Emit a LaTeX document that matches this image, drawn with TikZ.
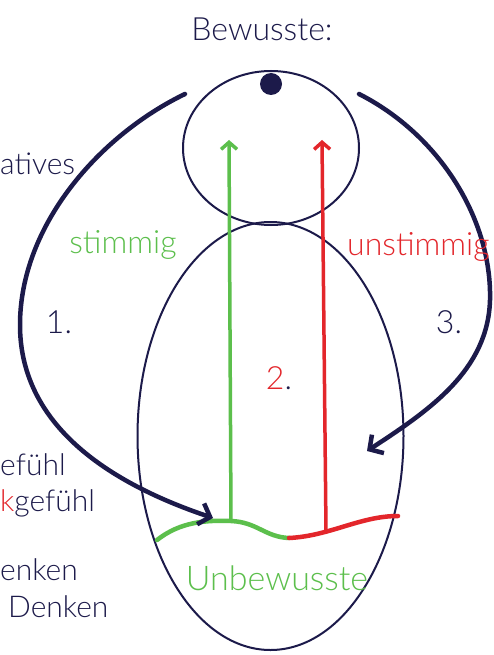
\documentclass[tikz,border=0pt]{standalone}
\usepackage{fontspec}
\setmainfont{Lato Light}
\usetikzlibrary{arrows.meta}
\definecolor{navy}{HTML}{1C1A4A}
\definecolor{mygreen}{HTML}{5CBF4C}
\definecolor{myred}{HTML}{E3262B}
\begin{document}
\begin{tikzpicture}[x=1pt,y=-1pt,
  outline/.style={draw=navy,line width=2pt},
  bigarrow/.style={draw=navy,line width=4.5pt,line cap=round,-{Straight Barb[length=10pt,width=22pt,line width=4.5pt]}},
  uparrow/.style={line width=3.5pt,line cap=round,-{Straight Barb[length=7pt,width=16pt,line width=3.5pt]}},
  wave/.style={line width=4.5pt,line cap=round},
  lbl/.style={font=\fontsize{32}{36}\selectfont,inner sep=0pt},
  side/.style={font=\fontsize{30}{34}\selectfont,inner sep=0pt,text=navy,anchor=west}]
\useasboundingbox (0,0) rectangle (493,655);
\fill[white] (0,0) rectangle (493,655);
% shapes
\draw[outline] (271,148) ellipse [x radius=88,y radius=77];
\draw[outline] (270.5,436) ellipse [x radius=133,y radius=214];
\fill[navy] (271,84) circle (11);
% coordinates
\coordinate (a1s) at (185,94);
\coordinate (a1m) at (20,325);
\coordinate (a1e) at (213,518);
\coordinate (a3s) at (359,94);
\coordinate (a3m) at (490,300);
\coordinate (a3e) at (367,451);
\coordinate (gb) at (231,521);
\coordinate (gt) at (229,140);
\coordinate (rb) at (326,531);
\coordinate (rt) at (322,140);
\coordinate (w0) at (157,540);
\coordinate (w1) at (289,538);
\coordinate (w2) at (398,516);
% up arrows
\draw[uparrow,draw=mygreen] (gb) -- (gt);
\draw[uparrow,draw=myred] (rb) -- (rt);
% wave
\draw[wave,draw=mygreen] (w0) .. controls (180,522) and (205,520) .. (gb) .. controls (257,522) and (265,537) .. (w1);
\draw[wave,draw=myred] (w1) .. controls (330,536) and (360,516) .. (w2);
% big arrows
\draw[bigarrow] (a1s) .. controls (100,135) and (20,225) .. (a1m) .. controls (20,420) and (100,480) .. (a1e);
\draw[bigarrow] (a3s) .. controls (440,135) and (492,220) .. (a3m) .. controls (488,370) and (430,410) .. (a3e);
% texts
\node[lbl,text=navy] (t0) at (262,29) {Bewusste:};
\node[lbl,text=mygreen] (t1) at (123,245) {stimmig};
\node[lbl,text=myred,anchor=west] (t2) at (347,247) {unstimmig};
\node[lbl,text=navy] (t3) at (59,322) {1.};
\node[lbl,text=navy] (t4) at (449,322) {3.};
\node[lbl] (t5) at (279,378) {\textcolor{myred}{2}\textcolor{navy}{.}};
\node[lbl,text=mygreen,font=\fontsize{34}{38}\selectfont] (t6) at (277,578) {Unbewusste};
\node[side] (s1) at (0,164) {atives};
\node[side] (s2) at (0,465) {efühl};
\node[side] (s3) at (0,503) {\textcolor{myred}{k}gefühl};
\node[side] (s4) at (0,570) {enken};
\node[side] (s5) at (8,607) {Denken};
\end{tikzpicture}
\end{document}
